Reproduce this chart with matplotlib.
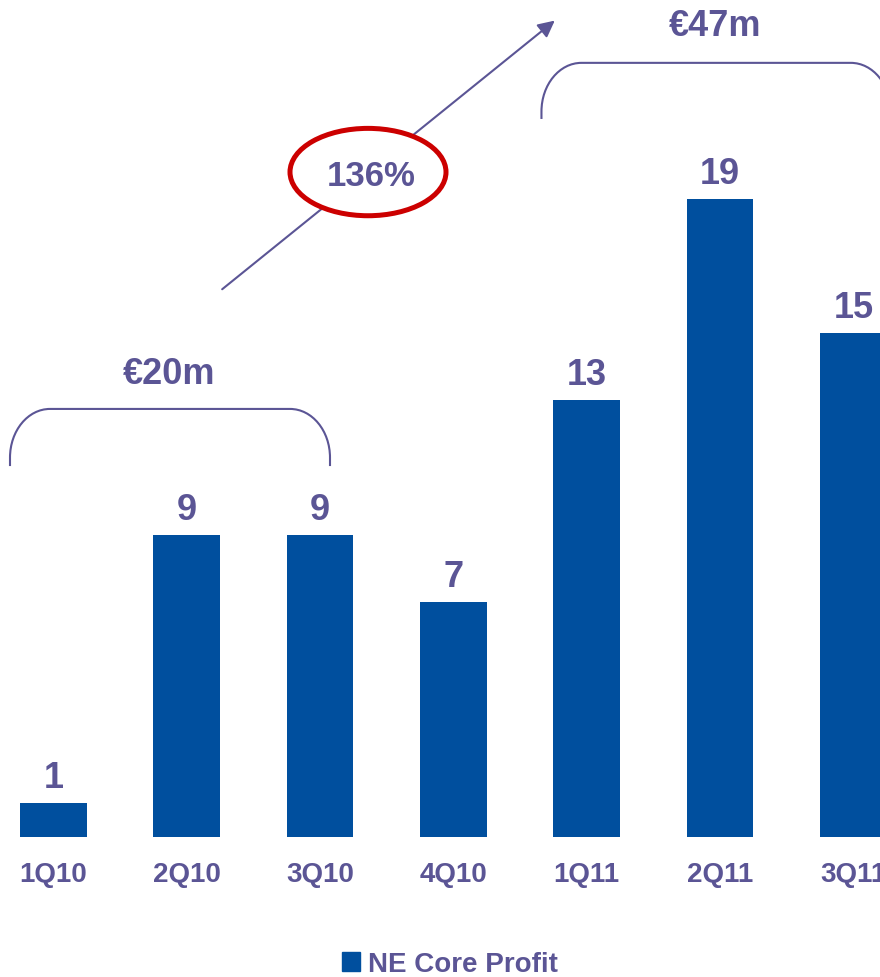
import matplotlib
matplotlib.use("Agg")
import matplotlib.pyplot as plt
from matplotlib.path import Path
from matplotlib.patches import PathPatch, Ellipse, Patch

quarters = ["1Q10", "2Q10", "3Q10", "4Q10", "1Q11", "2Q11", "3Q11"]
profit = [1, 9, 9, 7, 13, 19, 15]
series_name = "NE Core Profit"
total_2010 = "€20m"
total_2011 = "€47m"
growth = "136%"

BAR = "#004F9E"
TXT = "#5B5595"
RED = "#CC0000"

plt.rcParams["font.family"] = ["Liberation Sans", "DejaVu Sans"]
plt.rcParams["font.weight"] = "bold"

fig = plt.figure(figsize=(8.8, 9.78), dpi=100)
ax = fig.add_axes([0, 140 / 978, 1, 838 / 978])

x = list(range(len(quarters)))
bars = ax.bar(x, profit, width=0.5, color=BAR, zorder=2)
for xi, v in zip(x, profit):
    ax.annotate(str(v), (xi, v), xytext=(0, 11.5), textcoords="offset points",
                ha="center", va="baseline", fontsize=26, color=TXT, fontweight="bold")

ax.set_xlim(-0.401, 6.199)
ax.set_ylim(0, 838 / 33.6)
ax.set_xticks(x)
ax.set_xticklabels(quarters, fontsize=20, color=TXT, fontweight="bold")
ax.tick_params(axis="x", length=0, pad=17)
ax.set_yticks([])
for s in ax.spines.values():
    s.set_visible(False)


def bracket(x0, x1, y_low, y_top, rx, ry):
    # legs going down from a rounded top line
    k = 0.5523
    verts = [(x0, y_low), (x0, y_top - ry),
             (x0, y_top - ry + k * ry), (x0 + rx - k * rx, y_top), (x0 + rx, y_top),
             (x1 - rx, y_top),
             (x1 - rx + k * rx, y_top), (x1, y_top - ry + k * ry), (x1, y_top - ry),
             (x1, y_low)]
    codes = [Path.MOVETO, Path.LINETO, Path.CURVE4, Path.CURVE4, Path.CURVE4,
             Path.LINETO, Path.CURVE4, Path.CURVE4, Path.CURVE4, Path.LINETO]
    ax.add_patch(PathPatch(Path(verts, codes), fill=False, edgecolor=TXT, lw=1.5,
                           clip_on=False, zorder=3))


bracket(-0.326, 2.074, 11.04, 12.74, 0.3, 1.45)
bracket(3.66, 6.28, 21.37, 23.04, 0.3, 1.45)

ax.text(0.866, 13.78, total_2010, ha="center", va="center", fontsize=26, color=TXT, fontweight="bold")
ax.text(4.96, 24.14, total_2011, ha="center", va="center", fontsize=26, color=TXT, fontweight="bold")

ax.annotate("", xy=(3.776, 24.35), xytext=(1.249, 16.25),
            arrowprops=dict(arrowstyle="-|>", mutation_scale=25, lw=1.5, color=TXT),
            zorder=3, annotation_clip=False)
ax.add_patch(Ellipse((2.359, 19.79), 1.17, 2.6, facecolor="white", edgecolor=RED,
                     lw=3.6, zorder=4))
ax.text(2.385, 19.7, growth, ha="center", va="center", fontsize=25, color=TXT,
        fontweight="bold", zorder=5)

fig.legend(handles=[Patch(color=BAR)], labels=[series_name], loc="center",
           bbox_to_anchor=(0.511, 0.0133), frameon=False, fontsize=20,
           labelcolor=TXT, handlelength=0.65, handleheight=0.65, handletextpad=0.3,
           borderpad=0, borderaxespad=0)

fig.savefig("out.png", dpi=100)
